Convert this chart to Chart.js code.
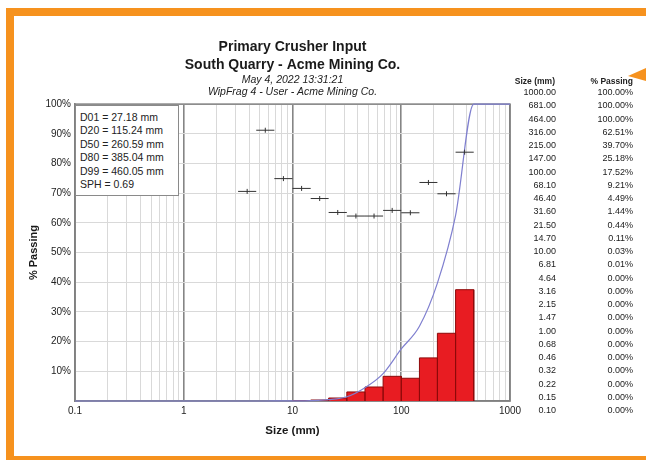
<!DOCTYPE html>
<html><head><meta charset="utf-8">
<script src="https://cdn.jsdelivr.net/npm/chart.js@4.4.0/dist/chart.umd.min.js"></script>
<style>
html,body{margin:0;padding:0;background:#fff;}
#wrap{position:relative;width:646px;height:460px;overflow:hidden;font-family:"Liberation Sans",Arial,sans-serif;color:#222;background:#fff;}
canvas{position:absolute;left:0;top:0;}
.ob{position:absolute;background:#F6921E;}
#tri{position:absolute;left:628px;top:68px;width:18px;height:13px;background:#F6921E;clip-path:polygon(0 62%,100% 0,100% 100%);}
#legend{position:absolute;left:75px;top:105px;width:104px;height:91px;border:1.5px solid #8a8a8a;background:#fff;box-sizing:border-box;padding:5px 0 0 4px;font-size:10.5px;line-height:13.4px;color:#222;white-space:nowrap;}
.hd{position:absolute;font-weight:bold;font-size:8.5px;line-height:10px;text-align:right;white-space:nowrap;}
.cell{position:absolute;font-size:9px;line-height:10px;text-align:right;white-space:nowrap;color:#222;}
</style></head>
<body><div id="wrap">
<canvas id="c" width="646" height="460"></canvas>
<div class="ob" style="left:6px;top:8px;width:640px;height:8px"></div>
<div class="ob" style="left:6px;top:8px;width:8px;height:452px"></div>
<div class="ob" style="left:6px;top:456px;width:640px;height:4px"></div>
<div id="tri"></div>
<div id="legend"></div>
<div id="table"></div>
</div>
<script>
// ---- data ----
const sizes = [1000, 681, 464, 316, 215, 147, 100, 68.1, 46.4, 31.6, 21.5, 14.7, 10, 6.81, 4.64, 3.16, 2.15, 1.47, 1.00, 0.68, 0.46, 0.32, 0.22, 0.15, 0.10];
const passing = [100, 100, 100, 62.51, 39.70, 25.18, 17.52, 9.21, 4.49, 1.44, 0.44, 0.11, 0.03, 0.01, 0, 0, 0, 0, 0, 0, 0, 0, 0, 0, 0];
const classUpper = [464, 316, 215, 147, 100, 68.1, 46.4, 31.6, 21.5, 14.7];
const classLower = [316, 215, 147, 100, 68.1, 46.4, 31.6, 21.5, 14.7, 10];
const retained = [37.49, 22.81, 14.52, 7.66, 8.31, 4.72, 3.05, 1.00, 0.33, 0.08];
const markUpper = [464, 316, 215, 147, 100, 68.1, 46.4, 31.6, 21.5, 14.7, 10, 6.81, 4.64];
const markLower = [316, 215, 147, 100, 68.1, 46.4, 31.6, 21.5, 14.7, 10, 6.81, 4.64, 3.16];
const markValues = [83.8, 69.8, 73.6, 63.4, 64.2, 62.3, 62.3, 63.5, 68.2, 71.6, 74.9, 91.2, 70.6];
const xTickValues = [0.1, 1, 10, 100, 1000];
const xTickLabels = ['0.1', '1', '10', '100', '1000'];
const statLines = ['D01 = 27.18 mm', 'D20 = 115.24 mm', 'D50 = 260.59 mm', 'D80 = 385.04 mm', 'D99 = 460.05 mm', 'SPH = 0.69'];
const titleLines = ['Primary Crusher Input', 'South Quarry - Acme Mining Co.'];
const subtitleLines = ['May 4, 2022 13:31:21', 'WipFrag 4 - User - Acme Mining Co.'];

// ---- html text blocks ----
document.getElementById('legend').innerHTML = statLines.map(s => '<div>' + s + '</div>').join('');
let th = '<div class="hd" style="left:500px;width:55px;top:76px">Size (mm)</div>' +
         '<div class="hd" style="left:570px;width:63px;top:76px">% Passing</div>';
sizes.forEach((s, i) => {
  const top = 87 + i * 13.25;
  th += '<div class="cell" style="left:500px;width:56px;top:' + top + 'px">' + s.toFixed(2) + '</div>';
  th += '<div class="cell" style="left:570px;width:63px;top:' + top + 'px">' + passing[i].toFixed(2) + '%</div>';
});
document.getElementById('table').innerHTML = th;

// ---- datasets from data ----
const histPts = [];
for (let i = classUpper.length - 1; i >= 0; i--) {
  histPts.push({x: classLower[i], y: 0}, {x: classLower[i], y: retained[i]}, {x: classUpper[i], y: retained[i]}, {x: classUpper[i], y: 0});
}
const curvePts = sizes.map((s, i) => ({x: s, y: passing[i]})).reverse();
const segPts = [];
const tickPts = [];
markValues.forEach((v, i) => {
  segPts.push({x: markLower[i], y: v}, {x: markUpper[i], y: v}, {x: markUpper[i], y: null});
  tickPts.push({x: Math.sqrt(markLower[i] * markUpper[i]), y: v});
});

const isDecade = v => Math.abs(Math.log10(v) - Math.round(Math.log10(v))) < 1e-6;

Chart.defaults.font.family = "'Liberation Sans', Arial, sans-serif";
Chart.defaults.color = '#222';

const framePlugin = {
  id: 'frame',
  beforeDatasetsDraw(chart) {
    const {ctx, chartArea: a} = chart;
    ctx.save();
    ctx.strokeStyle = '#808080';
    ctx.lineWidth = 1.5;
    ctx.strokeRect(a.left, a.top, a.right - a.left, a.bottom - a.top);
    ctx.restore();
  }
};

new Chart(document.getElementById('c'), {
  type: 'line',
  data: {
    datasets: [
      {data: histPts, borderColor: '#8e0a0a', borderWidth: 1, backgroundColor: '#e81c22', fill: 'origin', pointRadius: 0, tension: 0, order: 3},
      {data: curvePts, borderColor: '#7f7fcf', borderWidth: 1.2, fill: false, pointRadius: 0, cubicInterpolationMode: 'monotone', clip: 3, order: 2},
      {data: segPts, borderColor: '#333', borderWidth: 1, fill: false, pointRadius: 0, spanGaps: false, order: 1},
      {data: tickPts, showLine: false, pointStyle: 'line', rotation: 90, pointRadius: 2.5, borderColor: '#333', borderWidth: 1, order: 0}
    ]
  },
  options: {
    responsive: false,
    animation: false,
    events: [],
    layout: {padding: {top: 38, left: 20, right: 136, bottom: 19}},
    plugins: {
      legend: {display: false},
      tooltip: {enabled: false},
      title: {display: true, fullSize: false, text: titleLines, font: {size: 14, weight: 'bold', lineHeight: 1.3}, color: '#1a1a1a', padding: 0},
      subtitle: {display: true, fullSize: false, text: subtitleLines, font: {size: 10.5, style: 'italic', lineHeight: 1.143}, color: '#222', padding: {top: 0, bottom: 5.7}}
    },
    scales: {
      x: {
        type: 'logarithmic', min: 0.1, max: 1000,
        afterBuildTicks(s) {
          const t = [];
          for (let d = 0; d < xTickValues.length; d++) {
            const base = xTickValues[d];
            if (d === xTickValues.length - 1) { t.push({value: base}); break; }
            for (let m = 1; m <= 9; m++) t.push({value: base * m});
          }
          s.ticks = t;
        },
        afterFit(s) { s.height = 40; },
        ticks: {
          autoSkip: false, maxRotation: 0, padding: 4, font: {size: 10}, color: '#222',
          callback(v) { const k = xTickValues.findIndex(d => Math.abs(d - v) < 1e-9 * Math.max(1, d)); return k >= 0 ? xTickLabels[k] : ''; }
        },
        grid: {
          drawTicks: false,
          color: c => (c.tick && isDecade(c.tick.value)) ? '#858585' : '#d9d9d9',
          lineWidth: c => (c.tick && isDecade(c.tick.value)) ? 1.6 : 1
        },
        border: {display: true, color: '#808080', width: 1.5},
        title: {display: true, text: 'Size (mm)', font: {size: 11.5, weight: 'bold'}, color: '#1a1a1a', padding: {top: 0, bottom: 3.5}}
      },
      y: {
        min: 0, max: 100,
        afterFit(s) { s.width = 55; },
        ticks: {stepSize: 10, padding: 4, font: {size: 10}, color: '#222', callback: v => v === 0 ? '' : v + '%'},
        grid: {drawTicks: false, color: '#d9d9d9', lineWidth: 1},
        border: {display: true, color: '#808080', width: 1.5},
        title: {display: true, text: '% Passing', font: {size: 11, weight: 'bold'}, color: '#1a1a1a', padding: {top: 7, bottom: 0}}
      }
    }
  },
  plugins: [framePlugin]
});
</script>
</body></html>
